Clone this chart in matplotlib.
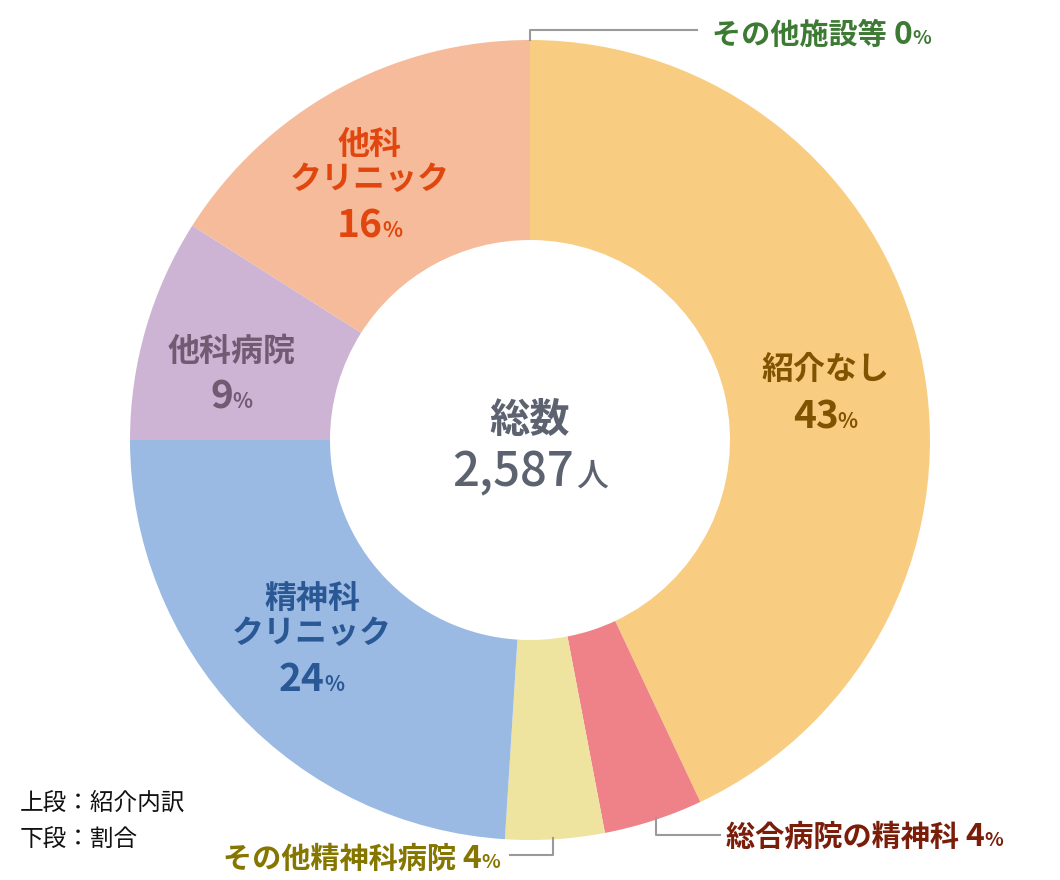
import matplotlib
matplotlib.use("Agg")
import matplotlib.pyplot as plt

plt.rcParams['font.family'] = ['Noto Sans CJK JP', 'DejaVu Sans']

# Data
categories = ["紹介なし", "総合病院の精神科", "その他精神科病院", "精神科クリニック", "他科病院", "他科クリニック", "その他施設等"]
shares = [43, 4, 4, 24, 9, 16, 0]
colors = ["#F8CD82", "#EE8288", "#EFE3A0", "#9ABAE4", "#CDB4D4", "#F5BB9A", "#8FBF7F"]
text_colors = ["#7F5300", "#7A1E0A", "#857600", "#2A5894", "#735A73", "#E0460E", "#3D7A33"]
total_label = "2,587"

W, H = 1060, 880
fig = plt.figure(figsize=(W / 100, H / 100), dpi=100)
ax = fig.add_axes([0, 0, 1, 1])
ax.set_xlim(0, W)
ax.set_ylim(0, H)
ax.set_aspect('equal')
ax.axis('off')

def Y(y):
    return H - y

cx, cy, R = 530, 440, 400
ax.pie(shares, colors=colors, startangle=90, counterclock=False,
       center=(cx, Y(cy)), radius=R,
       wedgeprops=dict(width=200, linewidth=0))
ax.set_xlim(0, W)
ax.set_ylim(0, H)

renderer = fig.canvas.get_renderer()

def num_pct(x, y, num, color, size=28, psize=15, align='center'):
    t1 = ax.text(0, Y(y), num, fontsize=size, fontweight='bold', color=color,
                 ha='left', va='baseline')
    t2 = ax.text(0, Y(y), "%", fontsize=psize, fontweight='bold', color=color,
                 ha='left', va='baseline')
    w1 = t1.get_window_extent(renderer).width
    w2 = t2.get_window_extent(renderer).width
    tot = w1 + w2
    x0 = x - tot / 2
    t1.set_x(x0)
    t2.set_x(x0 + w1 - 1)

def label(x, y, s, color, size=23):
    ax.text(x, Y(y), s, fontsize=size, fontweight='bold', color=color,
            ha='center', va='center')

# 紹介なし
label(826, 370, categories[0], text_colors[0])
num_pct(826, 428, "43", text_colors[0])
# 他科クリニック
label(370, 145, "他科", text_colors[5])
label(370, 180, "クリニック", text_colors[5])
num_pct(370, 237, "16", text_colors[5])
# 他科病院
label(232, 352, categories[4], text_colors[4])
num_pct(232, 408, "9", text_colors[4])
# 精神科クリニック
label(312, 600, "精神科", text_colors[3])
label(312, 634, "クリニック", text_colors[3])
num_pct(312, 691, "24", text_colors[3])

# outside labels
def outside(x, y, s, num, color, ha):
    t = ax.text(x, Y(y), s + " ", fontsize=21, fontweight='bold', color=color,
                ha='left', va='baseline')
    t1 = ax.text(0, Y(y), num, fontsize=23, fontweight='bold', color=color,
                 ha='left', va='baseline')
    t2 = ax.text(0, Y(y), "%", fontsize=14, fontweight='bold', color=color,
                 ha='left', va='baseline')
    w = t.get_window_extent(renderer).width
    w1 = t1.get_window_extent(renderer).width
    w2 = t2.get_window_extent(renderer).width
    tot = w + w1 + w2
    x0 = x if ha == 'left' else x - tot
    t.set_x(x0)
    t1.set_x(x0 + w)
    t2.set_x(x0 + w + w1)

outside(712, 44, categories[6], "0", text_colors[6], 'left')
outside(726, 846, categories[1], "4", text_colors[1], 'left')
outside(500, 868, categories[2], "4", text_colors[2], 'right')

lc = "#9A9A9A"
ax.plot([530, 530, 697], [Y(40), Y(30), Y(30)], color=lc, lw=1.5)
ax.plot([656, 656, 720], [Y(818), Y(835), Y(835)], color=lc, lw=1.5)
ax.plot([553, 553, 510], [Y(838), Y(855), Y(855)], color=lc, lw=1.5)

# center text
gray = "#5C6270"
ax.text(cx, Y(420), "総数", fontsize=29, fontweight='bold', color=gray, ha='center', va='center')
t1 = ax.text(0, Y(486), total_label, fontsize=34, fontweight='medium', color=gray, ha='left', va='baseline')
t2 = ax.text(0, Y(486), "人", fontsize=23, fontweight='medium', color=gray, ha='left', va='baseline')
w1 = t1.get_window_extent(renderer).width
w2 = t2.get_window_extent(renderer).width
x0 = cx - (w1 + w2 + 2) / 2
t1.set_x(x0)
t2.set_x(x0 + w1 + 2)

# note
ax.text(20, Y(803), "上段：紹介内訳", fontsize=17, color="#111111", ha='left', va='center')
ax.text(20, Y(840), "下段：割合", fontsize=17, color="#111111", ha='left', va='center')

fig.savefig("out.png", dpi=100)
